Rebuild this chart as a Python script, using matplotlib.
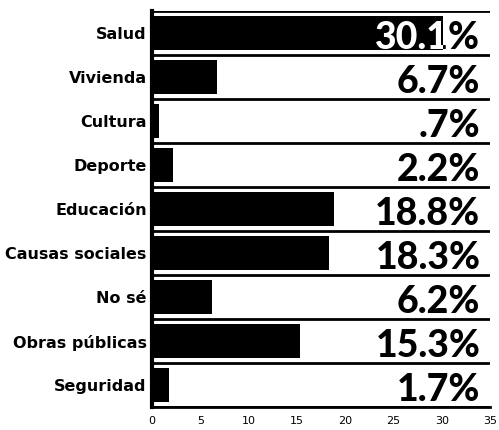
import numpy as np
import matplotlib.pyplot as plt
from matplotlib.transforms import TransformedBbox

categories = ["Salud", "Vivienda", "Cultura", "Deporte", "Educación",
              "Causas sociales", "No sé", "Obras públicas", "Seguridad"]
values = [30.1, 6.7, 0.7, 2.2, 18.8, 18.3, 6.2, 15.3, 1.7]
labels = ["30.1%", "6.7%", ".7%", "2.2%", "18.8%", "18.3%", "6.2%", "15.3%", "1.7%"]
xticks = [0, 5, 10, 15, 20, 25, 30, 35]

fig = plt.figure(figsize=(4.99, 4.30), dpi=100)
ax = fig.add_axes([0.305, 0.053, 0.677, 0.921])

y = np.arange(len(categories))
bars = ax.barh(y, values, height=0.76, color="black", zorder=2)

# row separators
for b in np.arange(-0.5, len(categories), 1.0):
    ax.axhline(b, color="black", lw=2, zorder=3)

# big labels: black on white, white where they sit over the bar
for yi, lab, bar in zip(y, labels, bars):
    kw = dict(ha="right", va="baseline", fontsize=27, fontweight="black",
              family=["Lato", "DejaVu Sans"], zorder=4)
    ax.text(34.0, yi + 0.36, lab, color="black", **kw)
    t = ax.text(34.0, yi + 0.36, lab, color="white", **kw)
    t.set_clip_box(TransformedBbox(bar.get_bbox(), ax.transData))
    t.set_clip_on(True)

ax.set_xlim(0, 35)
ax.set_ylim(len(categories) - 0.5, -0.5)
ax.set_yticks(y)
ax.set_yticklabels(categories, fontsize=11.5, fontweight="bold",
                   family=["Liberation Sans Narrow", "DejaVu Sans"])
ax.set_xticks(xticks)
ax.set_xticklabels([str(t) for t in xticks], fontsize=8)
ax.tick_params(length=0, pad=4)
ax.tick_params(axis="x", pad=6)
for s in ["top", "right"]:
    ax.spines[s].set_visible(False)
ax.spines["left"].set_linewidth(3)
ax.spines["bottom"].set_linewidth(2)

fig.savefig("out.png", dpi=100)
